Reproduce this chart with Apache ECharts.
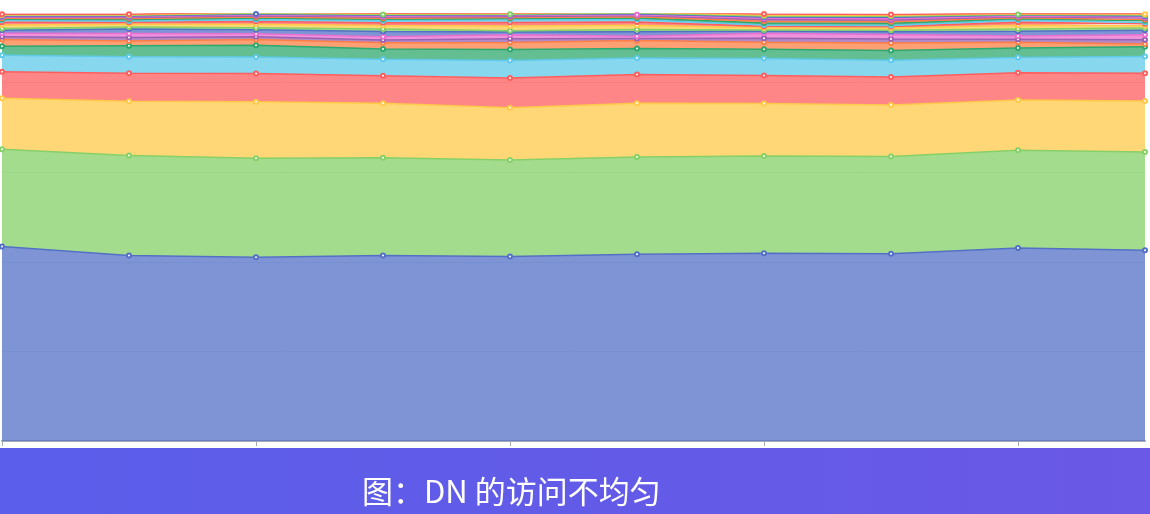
<!DOCTYPE html>
<html>
<head>
<meta charset="utf-8">
<script src="https://cdn.jsdelivr.net/npm/echarts@6/dist/echarts.min.js"></script>
<style>
html,body{margin:0;padding:0;background:#fff;}
#chart{width:1150px;height:514px;}
</style>
</head>
<body>
<div id="chart"></div>
<script>
const categories = ['1','2','3','4','5','6','7','8','9','10'];
const dn01 = [43.4, 41.4, 41.0, 41.4, 41.2, 41.7, 41.9, 41.8, 43.1, 42.6];
const dn02 = [21.7, 22.3, 22.1, 21.8, 21.5, 21.7, 21.7, 21.7, 21.8, 21.9];
const dn03 = [11.4, 12.1, 12.6, 12.2, 11.7, 12.0, 11.7, 11.5, 11.2, 11.4];
const dn04 = [5.9, 6.25, 6.3, 6.1, 6.6, 6.4, 6.25, 6.25, 6.1, 6.2];
const dn05 = [3.7, 3.7, 3.7, 3.7, 3.9, 3.7, 3.8, 3.7, 3.4, 3.7];
const dn06 = [2.0, 2.45, 2.6, 2.3, 2.45, 2.1, 2.1, 2.2, 2.1, 2.2];
const dn07 = [1.5, 1.1, 1.3, 1.4, 1.6, 1.8, 1.55, 1.7, 1.3, 0.6];
const dn08 = [0.65, 0.75, 0.6, 0.6, 0.8, 0.45, 0.9, 0.85, 0.65, 0.95];
const dn09 = [0.75, 0.9, 0.67, 0.74, 0.92, 0.51, 1.1, 1.0, 0.75, 1.1];
const dn10 = [0.7, 1.0, 0.9, 1.15, 0.6, 1.0, 0.5, 0.65, 1.05, 1.0];
const dn11 = [0.35, 0.47, 0.44, 0.57, 0.3, 0.5, 0.24, 0.31, 0.51, 0.5];
const dn12 = [0.8, 0.6, 0.8, 0.8, 1.05, 0.95, 0.5, 0.5, 0.85, 0.55];
const dn13 = [0.6, 0.42, 0.6, 0.6, 0.8, 0.73, 0.35, 0.35, 0.65, 0.42];
const dn14 = [0.45, 0.32, 0.45, 0.45, 0.6, 0.55, 0.25, 0.25, 0.5, 0.3];
const dn15 = [0.25, 0.29, 0.33, 0.31, 0.29, 0.33, 0.47, 0.46, 0.28, 0.38];
const dn16 = [0.2, 0.23, 0.26, 0.25, 0.22, 0.26, 0.37, 0.37, 0.23, 0.3];
const dn17 = [0.2, 0.22, 0.26, 0.25, 0.23, 0.26, 0.37, 0.37, 0.23, 0.3];
const dn18 = [0.16, 0.18, 0.21, 0.2, 0.18, 0.2, 0.29, 0.3, 0.18, 0.24];
const dn19 = [0.16, 0.18, 0.2, 0.2, 0.18, 0.21, 0.29, 0.29, 0.18, 0.24];
const dn20 = [0.13, 0.15, 0.17, 0.16, 0.15, 0.17, 0.24, 0.25, 0.15, 0.2];
const dn21 = [0.12, 0.13, 0.15, 0.15, 0.13, 0.15, 0.22, 0.22, 0.13, 0.18];
const dn22 = [0.11, 0.12, 0.14, 0.13, 0.12, 0.14, 0.2, 0.19, 0.12, 0.16];
const seriesData = [dn01,dn02,dn03,dn04,dn05,dn06,dn07,dn08,dn09,dn10,dn11,dn12,dn13,dn14,dn15,dn16,dn17,dn18,dn19,dn20,dn21,dn22];
const captionText = '图：DN 的访问不均匀';
const palette = ['#5470c6','#86d068','#ffc94a','#ff5e5e','#5fcaea','#2fa86e','#ff7f45','#9a60b4','#ea6fd0'];

const chart = echarts.init(document.getElementById('chart'), null, {renderer:'canvas'});
const series = seriesData.map((d, i) => ({
  name: 'DN' + (i + 1),
  type: 'line',
  stack: 'total',
  data: d,
  symbol: 'emptyCircle',
  symbolSize: 4,
  lineStyle: { width: 1.5 },
  areaStyle: { opacity: 0.75 },
  emphasis: { disabled: true }
}));
chart.setOption({
  animation: false,
  color: palette,
  grid: { left: 2, right: 5, top: 14, bottom: 73 },
  xAxis: {
    type: 'category',
    boundaryGap: false,
    data: categories,
    axisLine: { lineStyle: { color: '#a4aab6', width: 2 } },
    axisTick: { interval: 1, length: 5, lineStyle: { color: '#a4aab6' } },
    axisLabel: { show: false }
  },
  yAxis: {
    type: 'value',
    min: 0,
    max: 95.3,
    interval: 20,
    axisLine: { show: false },
    axisTick: { show: false },
    axisLabel: { show: false },
    splitLine: { show: true, lineStyle: { color: '#E0E6F1' } }
  },
  series: series,
  graphic: [
    {
      type: 'rect',
      left: 0,
      top: 448,
      shape: { width: 1150, height: 66 },
      style: {
        fill: new echarts.graphic.LinearGradient(0, 0, 1, 0, [
          { offset: 0, color: '#5a5eea' },
          { offset: 1, color: '#6a58e6' }
        ])
      },
      z: 100
    },
    {
      type: 'text',
      left: 362,
      top: 476,
      style: {
        text: captionText,
        fill: '#ffffff',
        font: '31px "Noto Sans CJK SC", sans-serif'
      },
      z: 101
    }
  ]
});
</script>
</body>
</html>
